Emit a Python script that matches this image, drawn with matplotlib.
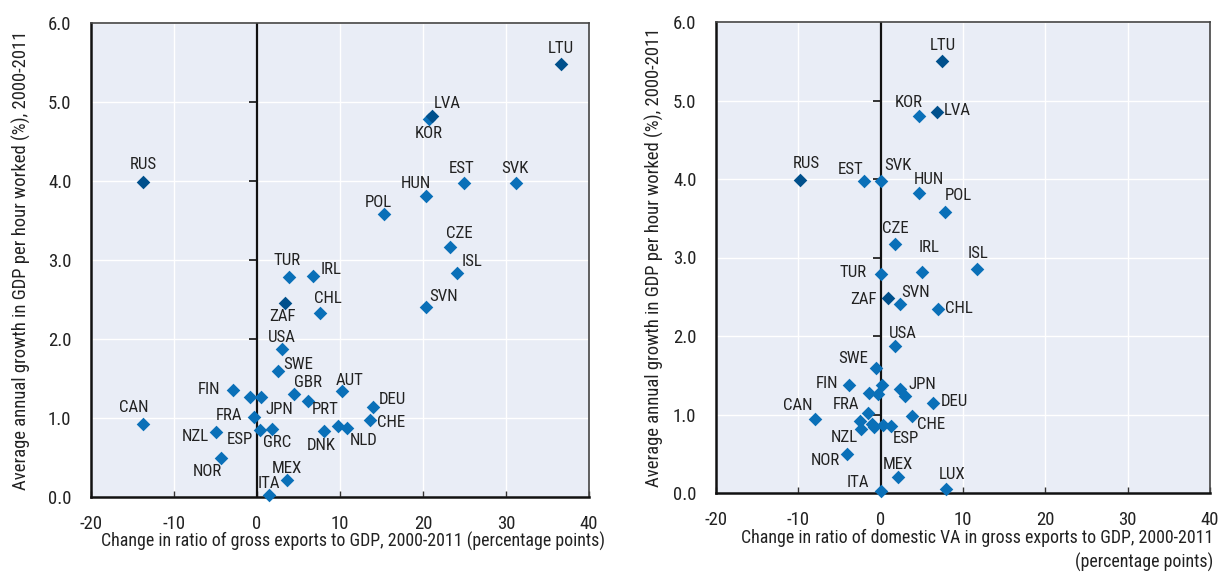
import matplotlib
matplotlib.use("Agg")
import matplotlib.pyplot as plt
from matplotlib import font_manager

names = {f.name for f in font_manager.fontManager.ttflist}
fam = ['Roboto Condensed', 'Liberation Sans Narrow', 'Liberation Sans', 'DejaVu Sans']
fam = [f for f in fam if f in names] + ['DejaVu Sans']
plt.rcParams['font.family'] = fam

# ---------------- data: left panel (gross exports) ----------------
left_names = ["LTU", "LVA", "KOR", "RUS", "EST", "SVK", "HUN", "POL", "CZE", "ISL",
              "TUR", "IRL", "ZAF", "CHL", "SVN", "USA", "SWE", "FIN", "BEL", "JPN",
              "GBR", "AUT", "PRT", "DEU", "CHE", "FRA", "CAN", "NZL", "ESP", "GRC",
              "DNK", "AUS", "NLD", "NOR", "MEX", "ITA"]
left_x = [36.6, 21.1, 20.7, -13.7, 24.9, 31.2, 20.4, 15.3, 23.3, 24.1,
          3.9, 6.7, 3.4, 7.6, 20.4, 3.0, 2.5, -2.9, -0.8, 0.5,
          4.4, 10.3, 6.1, 14.0, 13.6, -0.4, -13.7, -4.9, 0.4, 1.8,
          8.1, 9.8, 10.9, -4.3, 3.6, 1.4]
left_y = [5.48, 4.82, 4.79, 3.99, 3.97, 3.97, 3.81, 3.58, 3.16, 2.84,
          2.79, 2.80, 2.46, 2.33, 2.40, 1.87, 1.59, 1.36, 1.26, 1.26,
          1.30, 1.34, 1.22, 1.14, 0.97, 1.01, 0.93, 0.82, 0.85, 0.86,
          0.84, 0.90, 0.87, 0.50, 0.21, 0.03]

# ---------------- data: right panel (domestic VA in exports) ----------------
right_names = ["LTU", "KOR", "LVA", "RUS", "EST", "SVK", "HUN", "POL", "CZE", "ISL",
               "IRL", "TUR", "ZAF", "SVN", "CHL", "USA", "SWE", "FIN", "AUT", "GBR",
               "BEL", "JPN", "PRT", "DEU", "FRA", "CHE", "CAN", "AUS", "NZL", "NLD",
               "DNK", "GRC", "ESP", "NOR", "MEX", "LUX", "ITA"]
right_x = [7.5, 4.6, 6.9, -9.8, -2.0, 0.1, 4.6, 7.8, 1.7, 11.7,
           5.0, 0.1, 0.9, 2.3, 7.0, 1.8, -0.6, -3.8, 0.2, -1.4,
           -0.3, 2.4, 2.9, 6.3, -1.5, 3.8, -8.0, -2.5, -2.4, -1.0,
           -0.8, 0.3, 1.3, -4.1, 2.1, 7.9, 0.0]
right_y = [5.50, 4.80, 4.85, 3.99, 3.97, 3.97, 3.82, 3.58, 3.17, 2.85,
           2.81, 2.79, 2.48, 2.41, 2.34, 1.87, 1.59, 1.37, 1.37, 1.27,
           1.26, 1.32, 1.24, 1.15, 1.02, 0.98, 0.94, 0.92, 0.81, 0.88,
           0.84, 0.87, 0.85, 0.50, 0.21, 0.05, 0.02]

partners = ["LTU", "LVA", "RUS", "ZAF"]

x_ticks = [-20, -10, 0, 10, 20, 30, 40]
y_ticks = [0.0, 1.0, 2.0, 3.0, 4.0, 5.0, 6.0]

ylabel = "Average annual growth in GDP per hour worked (%), 2000-2011"
xlabel_left = "Change in ratio of gross exports to GDP, 2000-2011 (percentage points)"
xlabel_right = "Change in ratio of domestic VA in gross exports to GDP, 2000-2011\n(percentage points)"

# ---------------- label offsets (pixels, dx right, dy up) ----------------
left_offsets = {
    "LTU": (0, 16), "LVA": (15, 13), "KOR": (0, -15), "RUS": (0, 17), "EST": (-2, 15),
    "SVK": (-1, 15), "HUN": (-10, 13), "POL": (-6, 12), "CZE": (9, 14), "ISL": (15, 11),
    "TUR": (-2, 16), "IRL": (18, 6), "ZAF": (-3, -14), "CHL": (8, 14), "SVN": (17, 11),
    "USA": (0, 12), "SWE": (20, 7), "FIN": (-24, 0), "GBR": (14, 12), "AUT": (7, 11),
    "PRT": (18, -9), "DEU": (19, 7), "CHE": (21, -2), "FRA": (-25, 2), "JPN": (18, -12),
    "CAN": (-10, 16), "NZL": (-21, -4), "ESP": (-20, -10), "GRC": (5, -13), "DNK": (-3, -15),
    "NLD": (16, -12), "NOR": (-14, -14), "MEX": (0, 12), "ITA": (0, 11),
}
right_offsets = {
    "LTU": (0, 16), "KOR": (-10, 14), "LVA": (20, 2), "RUS": (6, 16), "EST": (-14, 12),
    "SVK": (16, 16), "HUN": (10, 14), "POL": (13, 16), "CZE": (1, 16), "ISL": (1, 16),
    "IRL": (7, 25), "TUR": (-28, 1), "ZAF": (-25, -1), "SVN": (16, 11), "CHL": (21, 1),
    "USA": (7, 13), "SWE": (-23, 10), "FIN": (-22, 2), "JPN": (22, 5), "DEU": (22, 1),
    "FRA": (-22, 8), "CHE": (19, -8), "CAN": (-17, 14), "NZL": (-17, -8), "ESP": (15, -12),
    "NOR": (-22, -7), "MEX": (0, 12), "LUX": (6, 15), "ITA": (-23, 9),
}

LIGHT = "#0A70B8"
DARK = "#00508C"
BG = "#E9EDF6"
TXT = "#222222"

fig = plt.figure(figsize=(12.22, 5.73), dpi=100)
ax1 = fig.add_axes([91 / 1222, 1 - 497 / 573, (589 - 91) / 1222, (497 - 23) / 573])
ax2 = fig.add_axes([716 / 1222, 1 - 493 / 573, (1210 - 716) / 1222, (493 - 22) / 573])


def draw(ax, nm, xs, ys, offs, xlabel, xlab_coords, multi=False):
    ax.set_facecolor(BG)
    ax.set_xlim(-20, 40)
    ax.set_ylim(0, 6)
    ax.set_xticks(x_ticks)
    ax.set_yticks(y_ticks)
    ax.set_xticklabels([str(t) for t in x_ticks])
    ax.set_yticklabels([f"{t:.1f}" for t in y_ticks])
    ax.grid(True, color="white", linewidth=1.0, zorder=0)
    ax.set_axisbelow(True)
    ax.tick_params(axis="x", direction="in", length=4, width=1, color="#333333",
                   pad=13, labelsize=13.5, labelcolor=TXT)
    ax.tick_params(axis="y", length=0, pad=14, labelsize=13.5, labelcolor=TXT)
    for s in ["left", "bottom"]:
        ax.spines[s].set_linewidth(1.8)
        ax.spines[s].set_color("#111111")
    for s in ["top", "right"]:
        ax.spines[s].set_linewidth(1.2)
        ax.spines[s].set_color("#444444")
    ax.axvline(0, color="#111111", linewidth=1.6, zorder=1)
    ax.plot([0] * (len(y_ticks) - 2), y_ticks[1:-1], linestyle="none", marker=0,
            markersize=6, markeredgewidth=1.2, color="#111111", zorder=1)
    # points: light first, dark on top
    for dark in (False, True):
        px = [x for n, x in zip(nm, xs) if (n in partners) == dark]
        py = [y for n, y in zip(nm, ys) if (n in partners) == dark]
        ax.scatter(px, py, marker="D", s=48, color=DARK if dark else LIGHT,
                   linewidths=0, zorder=3 + dark, clip_on=False)
    for n, x, y in zip(nm, xs, ys):
        if n in offs:
            dx, dy = offs[n]
            ax.annotate(n, (x, y), xytext=(dx, dy), textcoords="offset pixels",
                        ha="center", va="center", fontsize=12.2, color=TXT, zorder=5)
    ax.set_ylabel(ylabel, fontsize=13.4, color=TXT)
    if multi:
        ax.set_xlabel(xlabel, fontsize=12.9, color=TXT, ha="right",
                      multialignment="right", linespacing=1.35)
    else:
        ax.set_xlabel(xlabel, fontsize=12.9, color=TXT)
    ax.xaxis.set_label_coords(*xlab_coords)


draw(ax1, left_names, left_x, left_y, left_offsets, xlabel_left, (0.526, -0.074))
ax1.yaxis.set_label_coords(-0.12, 0.5)
draw(ax2, right_names, right_x, right_y, right_offsets, xlabel_right, (1.006, -0.077), multi=True)
ax2.xaxis.label.set_va("top")
ax2.yaxis.set_label_coords(-0.106, 0.5)
ax1.xaxis.label.set_va("top")

fig.savefig("out.png", dpi=100, facecolor="white")
